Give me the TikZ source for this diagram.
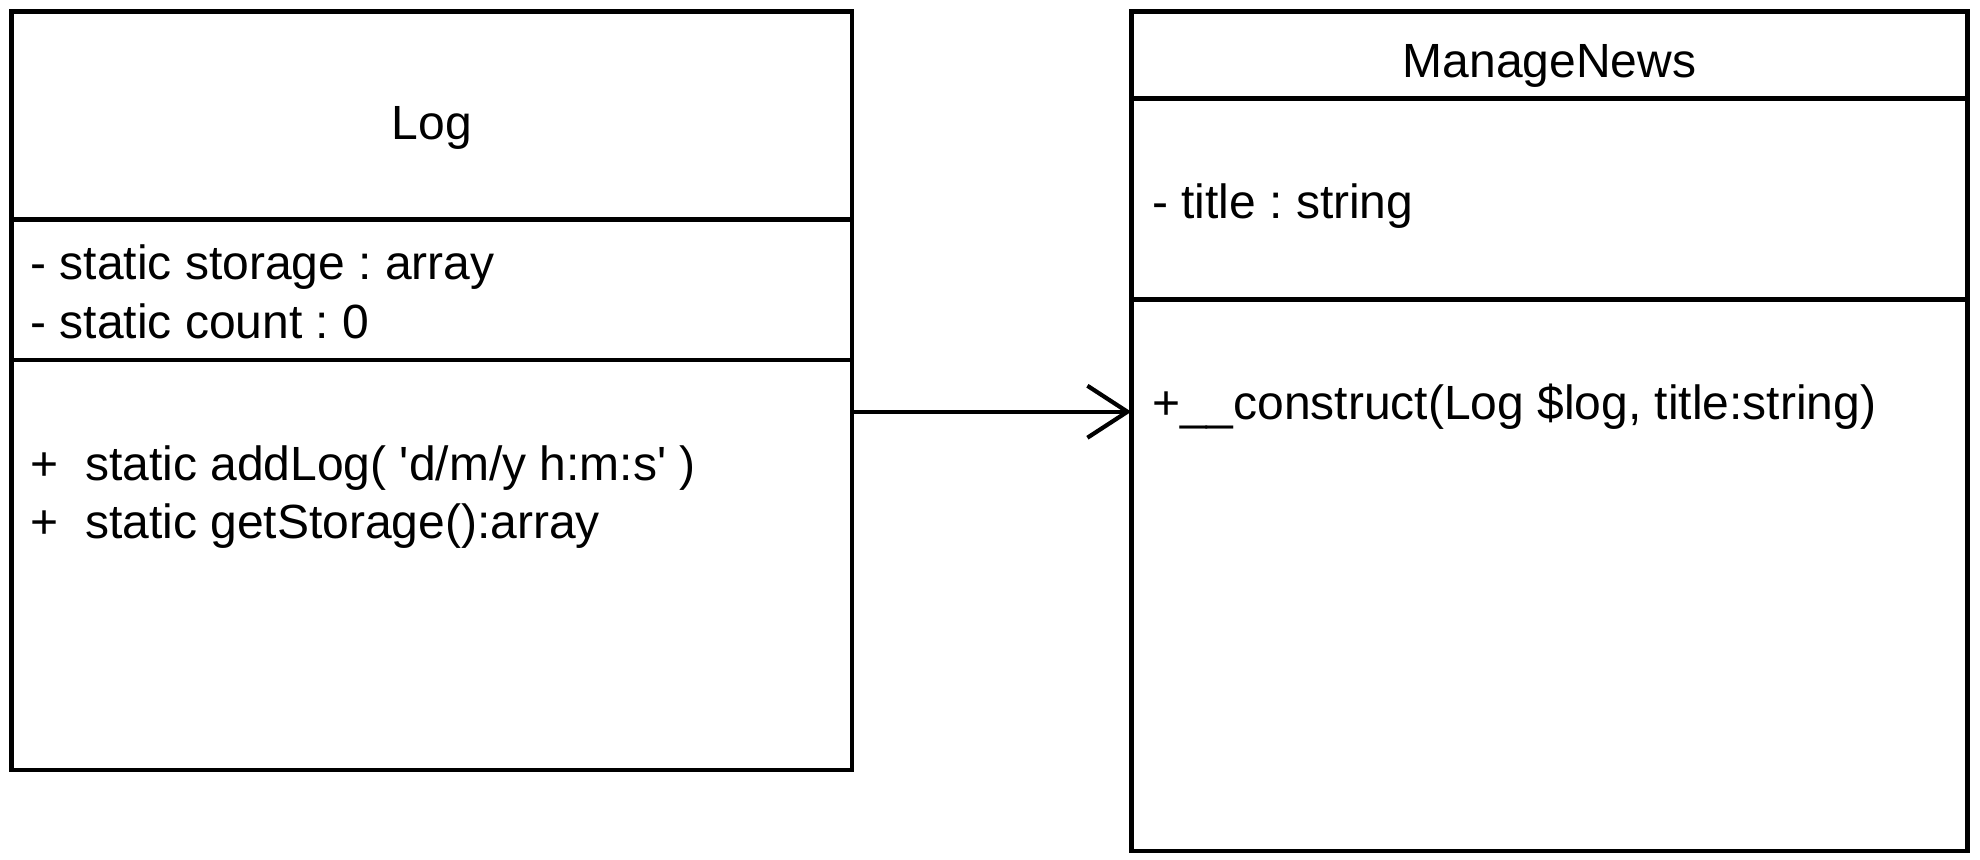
\documentclass[tikz,border=0pt]{standalone}
\usepackage{fontspec}
\setmainfont{Liberation Sans}
\usetikzlibrary{arrows.meta}
\frenchspacing
\begin{document}
\begin{tikzpicture}[x=0.5pt,y=-0.5pt,
  classbox/.style={draw, line width=2.3pt, inner sep=0pt, rectangle},
  sep/.style={line width=2.3pt},
  txt/.style={inner sep=0pt, anchor=base west, font=\fontsize{24}{29.5}\selectfont\frenchspacing},
  ttl/.style={inner sep=0pt, anchor=base, font=\fontsize{24}{29.5}\selectfont},
  arr/.style={line width=2.1pt, -{Straight Barb[length=20pt,width=26pt]}}
]
\useasboundingbox (0,0) rectangle (1980,860);
% Log class
\node[classbox, minimum width=420.25pt, minimum height=379.25pt] (log) at (431.75,390.75) {};
\draw[sep] (log.west |- 0,219.7) coordinate (ls1) -- (log.east |- ls1);
\draw[sep] (log.west |- 0,359.9) coordinate (ls2) -- (log.east |- ls2);
\node[ttl] (logname) at (431.75,139.5) {Log};
\node[txt] (la1) at (30,279.7) {- static storage : array};
\node[txt] (la2) at (30,339) {- static count : 0};
\node[txt] (lm1) at (30,480.5) {+\hspace{0.556em}static addLog( \textquotesingle d/m/y h:m:s\textquotesingle\ )};
\node[txt] (lm2) at (30,538.5) {+\hspace{0.556em}static getStorage():array};
% ManageNews class
\node[classbox, minimum width=417.95pt, minimum height=419.8pt] (mn) at (1549.5,431.2) {};
\draw[sep] (mn.west |- 0,98.5) coordinate (ms1) -- (mn.east |- ms1);
\draw[sep] (mn.west |- 0,299.3) coordinate (ms2) -- (mn.east |- ms2);
\node[ttl] (mnname) at (1549.5,77.6) {ManageNews};
\node[txt] (ma1) at (1151.6,219) {- title : string};
\node[txt] (mm1) at (1151.6,420) {+\_\_construct(Log \$log, title:string)};
% association
\draw[arr] ([yshift=-10.5pt]log.east) -- ([yshift=-10.5pt,xshift=1pt]log.east -| mn.west);
\end{tikzpicture}
\end{document}
